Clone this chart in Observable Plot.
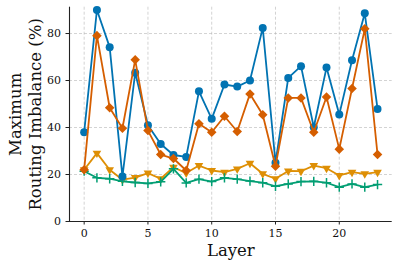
<!DOCTYPE html>
<html>
<head>
<meta charset="utf-8">
<script src="https://cdn.jsdelivr.net/npm/d3@7"></script>
<script src="https://cdn.jsdelivr.net/npm/@observablehq/plot@0.6"></script>
<style>
  html, body { margin: 0; padding: 0; background: #fff; }
</style>
</head>
<body>
<div id="chart"></div>
<script>
const layers = [0, 1, 2, 3, 4, 5, 6, 7, 8, 9, 10, 11, 12, 13, 14, 15, 16, 17, 18, 19, 20, 21, 22, 23];
const blueSeries = [38.0, 90.0, 74.2, 19.1, 63.3, 41.0, 33.0, 28.3, 27.5, 55.4, 43.7, 58.3, 57.4, 60.0, 82.4, 25.0, 61.1, 66.1, 40.1, 65.5, 45.5, 68.6, 88.6, 47.9];
const orangeSeries = [22.0, 79.1, 48.4, 39.7, 68.8, 38.7, 28.5, 26.8, 21.7, 41.6, 38.0, 44.8, 38.3, 54.3, 45.4, 23.5, 52.6, 52.6, 38.0, 53.0, 30.8, 56.6, 82.0, 28.5];
const yellowSeries = [22.0, 29.1, 22.0, 17.8, 18.7, 20.6, 18.2, 23.1, 20.6, 23.8, 21.7, 21.0, 22.4, 24.8, 20.3, 18.2, 21.5, 21.4, 23.8, 22.7, 19.6, 21.0, 20.3, 21.0];
const greenSeries = [21.4, 18.6, 18.2, 17.1, 16.6, 16.2, 16.9, 22.4, 16.4, 18.0, 17.0, 18.6, 18.0, 17.2, 16.5, 15.0, 16.0, 17.0, 17.1, 16.5, 14.6, 16.0, 14.6, 15.7];
const xTicks = [0, 5, 10, 15, 20];
const yTicks = [0, 20, 40, 60, 80];
const yGrid = [20, 40, 60, 80];

const C = { blue: "#0173b2", orange: "#d55e00", yellow: "#de8f05", green: "#029e73" };
const font = "DejaVu Serif, Liberation Serif, serif";

function series(values, color, symbol, r, extra = {}) {
  return [
    Plot.line(layers, { x: d => d, y: (d, i) => values[i], stroke: color, strokeWidth: 1.8 }),
    Plot.dot(layers, Object.assign({ x: d => d, y: (d, i) => values[i], symbol, r, fill: color, stroke: "none" }, extra))
  ];
}

const chart = Plot.plot({
  width: 399,
  height: 267,
  marginLeft: 69,
  marginRight: 7.3,
  marginTop: 6.7,
  marginBottom: 46,
  style: { fontFamily: font, fontSize: "11px", color: "#222", background: "#fff" },
  x: { domain: [-1.15, 24.15] },
  y: { domain: [0, 91.2] },
  marks: [
    Plot.gridX(xTicks, { stroke: "#b0b0b0", strokeOpacity: 0.7, strokeDasharray: "3,2", strokeWidth: 0.8 }),
    Plot.gridY(yGrid, { stroke: "#b0b0b0", strokeOpacity: 0.7, strokeDasharray: "3,2", strokeWidth: 0.8 }),
    ...series(yellowSeries, C.yellow, "triangle", 3.2, { rotate: 180 }),
    Plot.line(layers, { x: d => d, y: (d, i) => greenSeries[i], stroke: C.green, strokeWidth: 1.8 }),
    Plot.dot(layers, { x: d => d, y: (d, i) => greenSeries[i], symbol: "plus", r: 3.1, stroke: C.green, strokeWidth: 1.5, fill: "none" }),
    ...series(blueSeries, C.blue, "circle", 4),
    ...series(orangeSeries, C.orange, "diamond2", 4.3),
    Plot.ruleY([0], { stroke: "#222", strokeWidth: 1.1 }),
    Plot.ruleX([-1.15], { stroke: "#222", strokeWidth: 1.1 }),
    Plot.axisX({ ticks: xTicks, tickSize: 3.5, tickPadding: 4.5, label: null, stroke: "#222", fill: "#111" }),
    Plot.axisY({ ticks: yTicks, tickSize: 3.5, tickPadding: 5, label: null, stroke: "#222", fill: "#111" }),
    Plot.text(["Layer"], { frameAnchor: "bottom", text: d => d, dy: 34, lineAnchor: "bottom", textAnchor: "middle", fontSize: 16.5, fill: "#111" }),
    Plot.text(["Maximum"], { frameAnchor: "left", text: d => d, dx: -54, rotate: -90, textAnchor: "middle", lineAnchor: "middle", fontSize: 16.5, fill: "#111" }),
    Plot.text(["Routing Imbalance (%)"], { frameAnchor: "left", text: d => d, dx: -34, rotate: -90, textAnchor: "middle", lineAnchor: "middle", fontSize: 16.5, fill: "#111" })
  ]
});
document.getElementById("chart").appendChild(chart);
</script>
</body>
</html>
